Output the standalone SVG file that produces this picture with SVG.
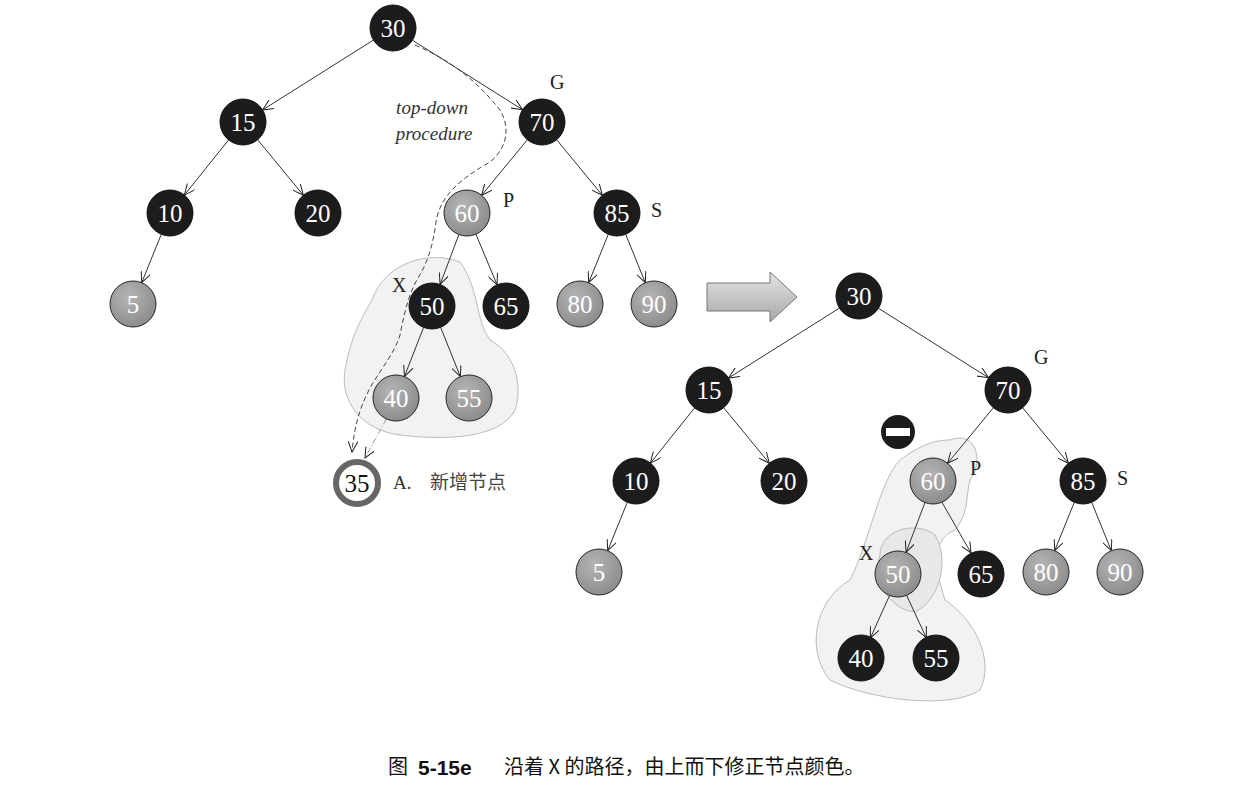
<svg xmlns="http://www.w3.org/2000/svg" width="1237" height="808" viewBox="0 0 1237 808">
<defs>
<marker id="ah" markerWidth="12" markerHeight="10" refX="11" refY="5" orient="auto" markerUnits="userSpaceOnUse"><path d="M0,0 L11,5 L0,10" fill="none" stroke="#222" stroke-width="1"/></marker>
<radialGradient id="gg" cx="0.4" cy="0.35" r="0.7"><stop offset="0" stop-color="#b5b5b5"/><stop offset="1" stop-color="#8a8a8a"/></radialGradient>
<linearGradient id="ar" x1="0" y1="0" x2="0" y2="1"><stop offset="0" stop-color="#e4e4e4"/><stop offset="1" stop-color="#a8a8a8"/></linearGradient>
</defs>
<style>
.b{fill:#1c1c1c;stroke:#111;stroke-width:1}
.g{fill:url(#gg);stroke:#222;stroke-width:1}
.t{font-family:"Liberation Serif",serif;font-size:25px;fill:#fff;text-anchor:middle;dominant-baseline:central}
.l{font-family:"Liberation Serif",serif;font-size:20px;fill:#222}
.e line{stroke:#333;stroke-width:1;marker-end:url(#ah)}
.blob{fill:#f2f2f2;stroke:#bbb;stroke-width:1}
</style>
<rect width="1237" height="808" fill="#fff"/>
<path class="blob" d="M372,300 C385,262 430,250 460,262 C480,290 475,320 490,340 C510,350 525,380 515,410 C500,440 440,440 400,435 C360,430 340,400 345,370 C350,340 360,320 372,300 Z"/>
<path class="blob" d="M950,440 C975,430 985,460 970,480 C965,500 970,510 955,530 C930,540 935,570 945,600 C975,620 995,660 980,690 C950,710 870,700 830,680 C805,650 815,600 850,580 C870,540 880,480 900,460 C920,445 935,440 950,440 Z"/>
<path d="M880,555 C880,530 915,520 935,535 C950,560 940,600 915,612 C890,610 872,580 880,555 Z" fill="#e8e8e8" stroke="#bbb" stroke-width="1"/>
<g id="connectors">
<g class="e">
<line x1="373.5" y1="40" x2="262.5" y2="110"/><line x1="412.5" y1="40.3" x2="522.5" y2="109.7"/>
<line x1="228.6" y1="139.9" x2="184.4" y2="195.1"/><line x1="257.6" y1="139.7" x2="303.4" y2="195.3"/>
<line x1="527.4" y1="139.7" x2="481.6" y2="195.3"/><line x1="556.6" y1="139.7" x2="602.4" y2="195.3"/>
<line x1="161.3" y1="234.3" x2="141.7" y2="282.7"/>
<line x1="458.9" y1="234.6" x2="440.1" y2="284.4"/><line x1="475.9" y1="234.2" x2="497.1" y2="284.8"/>
<line x1="608.3" y1="234.3" x2="588.7" y2="282.7"/><line x1="625.7" y1="234.3" x2="645.3" y2="282.7"/>
<line x1="423.6" y1="327.4" x2="404.4" y2="376.6"/><line x1="440.6" y1="327.3" x2="460.4" y2="376.7"/>
</g>
<line x1="386.4" y1="418.9" x2="365" y2="458" stroke="#999" stroke-width="1" stroke-dasharray="6,2,1,2" marker-end="url(#ah)"/>
<path d="M415,45 C455,62 480,85 500,110 C512,130 505,150 490,162 C462,178 440,195 436,222 C433,245 428,262 418,278 C408,295 404,315 400,335 C394,355 378,372 368,392 C358,412 354,430 352,452" fill="none" stroke="#444" stroke-width="1" stroke-dasharray="5,3" marker-end="url(#ah)"/>
<g class="e" transform="translate(466,268)">
<line x1="373.5" y1="40" x2="262.5" y2="110"/><line x1="412.5" y1="40.3" x2="522.5" y2="109.7"/>
<line x1="228.6" y1="139.9" x2="184.4" y2="195.1"/><line x1="257.6" y1="139.7" x2="303.4" y2="195.3"/>
<line x1="527.4" y1="139.7" x2="481.6" y2="195.3"/><line x1="556.6" y1="139.7" x2="602.4" y2="195.3"/>
<line x1="161.3" y1="234.3" x2="141.7" y2="282.7"/>
<line x1="458.9" y1="234.6" x2="440.1" y2="284.4"/><line x1="475.9" y1="234.2" x2="505" y2="285"/>
<line x1="608.3" y1="234.3" x2="588.7" y2="282.7"/><line x1="625.7" y1="234.3" x2="645.3" y2="282.7"/>
<line x1="423.6" y1="327.4" x2="404.4" y2="370"/><line x1="440.6" y1="327.3" x2="460.4" y2="370"/>
</g>
</g>
<g id="left-tree">
<g id="L30"><circle class="b" cx="393" cy="28" r="23"/><text class="t" x="393" y="28">30</text></g>
<g id="L15"><circle class="b" cx="243" cy="122" r="23"/><text class="t" x="243" y="122">15</text></g>
<g id="L70"><circle class="b" cx="542" cy="122" r="23"/><text class="t" x="542" y="122">70</text></g>
<g id="L10"><circle class="b" cx="170" cy="213" r="23"/><text class="t" x="170" y="213">10</text></g>
<g id="L20"><circle class="b" cx="318" cy="213" r="23"/><text class="t" x="318" y="213">20</text></g>
<g id="L60"><circle class="g" cx="467" cy="213" r="23"/><text class="t" x="467" y="213">60</text></g>
<g id="L85"><circle class="b" cx="617" cy="213" r="23"/><text class="t" x="617" y="213">85</text></g>
<g id="L5"><circle class="g" cx="133" cy="304" r="23"/><text class="t" x="133" y="304">5</text></g>
<g id="L50"><circle class="b" cx="432" cy="306" r="23"/><text class="t" x="432" y="306">50</text></g>
<g id="L65"><circle class="b" cx="506" cy="306" r="23"/><text class="t" x="506" y="306">65</text></g>
<g id="L80"><circle class="g" cx="580" cy="304" r="23"/><text class="t" x="580" y="304">80</text></g>
<g id="L90"><circle class="g" cx="654" cy="304" r="23"/><text class="t" x="654" y="304">90</text></g>
<g id="L40"><circle class="g" cx="396" cy="398" r="23"/><text class="t" x="396" y="398">40</text></g>
<g id="L55"><circle class="g" cx="469" cy="398" r="23"/><text class="t" x="469" y="398">55</text></g>
<g id="L35"><circle cx="357" cy="483" r="21" fill="#fff" stroke="#666" stroke-width="6"/><text class="t" x="357" y="483" style="fill:#111">35</text></g>
<text class="l" x="550" y="89">G</text><text class="l" x="503" y="207">P</text><text class="l" x="651" y="217">S</text><text class="l" x="392" y="292">X</text>
<text x="432" y="114" text-anchor="middle" font-family="Liberation Serif,serif" font-style="italic" font-size="19" fill="#333">top-down</text>
<text x="434" y="140" text-anchor="middle" font-family="Liberation Serif,serif" font-style="italic" font-size="19" fill="#333">procedure</text>
<text x="393" y="489" font-family="Liberation Serif,serif" font-size="19" fill="#333">A.</text>
<text x="430" y="489" font-family="Noto Sans CJK SC,sans-serif" font-size="19" fill="#444">新增节点</text>
</g>
<g id="big-arrow"><path d="M707,283 L770,283 L770,272 L797,297 L770,322 L770,311 L707,311 Z" fill="url(#ar)" stroke="#777" stroke-width="1"/></g>
<g id="right-tree">
<g id="R30"><circle class="b" cx="859" cy="296" r="23"/><text class="t" x="859" y="296">30</text></g>
<g id="R15"><circle class="b" cx="709" cy="390" r="23"/><text class="t" x="709" y="390">15</text></g>
<g id="R70"><circle class="b" cx="1008" cy="390" r="23"/><text class="t" x="1008" y="390">70</text></g>
<g id="R10"><circle class="b" cx="636" cy="481" r="23"/><text class="t" x="636" y="481">10</text></g>
<g id="R20"><circle class="b" cx="784" cy="481" r="23"/><text class="t" x="784" y="481">20</text></g>
<g id="R60"><circle class="g" cx="933" cy="481" r="23"/><text class="t" x="933" y="481">60</text></g>
<g id="R85"><circle class="b" cx="1083" cy="481" r="23"/><text class="t" x="1083" y="481">85</text></g>
<g id="R5"><circle class="g" cx="599" cy="572" r="23"/><text class="t" x="599" y="572">5</text></g>
<g id="R50"><circle class="g" cx="898" cy="574" r="23"/><text class="t" x="898" y="574">50</text></g>
<g id="R65"><circle class="b" cx="981" cy="574" r="23"/><text class="t" x="981" y="574">65</text></g>
<g id="R80"><circle class="g" cx="1046" cy="572" r="23"/><text class="t" x="1046" y="572">80</text></g>
<g id="R90"><circle class="g" cx="1120" cy="572" r="23"/><text class="t" x="1120" y="572">90</text></g>
<g id="R40"><circle class="b" cx="861" cy="658" r="23"/><text class="t" x="861" y="658">40</text></g>
<g id="R55"><circle class="b" cx="936" cy="658" r="23"/><text class="t" x="936" y="658">55</text></g>
<g id="minus"><circle cx="898" cy="432" r="17" fill="#1c1c1c"/><rect x="886" y="428" width="24" height="8" fill="#fff"/></g>
<text class="l" x="1034" y="364">G</text><text class="l" x="970" y="475">P</text><text class="l" x="1117" y="485">S</text><text class="l" x="859" y="560">X</text>
</g>
<g id="caption">
<text x="388" y="774" font-family="Noto Sans CJK SC,sans-serif" font-size="20" fill="#111">图</text>
<text x="418" y="775" font-family="Liberation Sans,sans-serif" font-weight="bold" font-size="21" fill="#111">5-15e</text>
<text x="504" y="774" font-family="Noto Sans CJK SC,sans-serif" font-size="20" fill="#111">沿着 X 的路径，由上而下修正节点颜色。</text>
</g>
</svg>
